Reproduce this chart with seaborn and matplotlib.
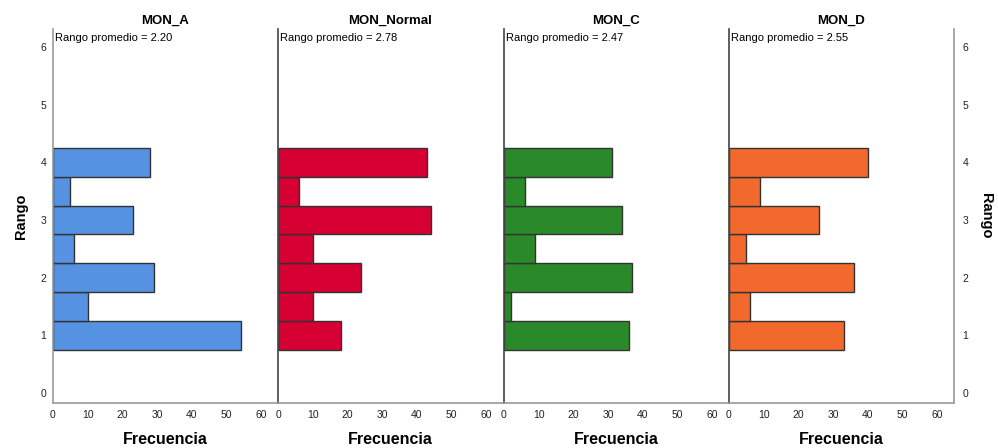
import matplotlib
matplotlib.use("Agg")
import matplotlib.pyplot as plt
import seaborn as sns
import pandas as pd

# Rank values (bar centres) and frequency per group
rangos = [1.0, 1.5, 2.0, 2.5, 3.0, 3.5, 4.0]
grupos = ["MON_A", "MON_Normal", "MON_C", "MON_D"]
frec_mon_a = [54, 10, 29, 6, 23, 5, 28]
frec_mon_normal = [18, 10, 24, 10, 44, 6, 43]
frec_mon_c = [36, 2, 37, 9, 34, 6, 31]
frec_mon_d = [33, 6, 36, 5, 26, 9, 40]
rango_promedio = ["2.20", "2.78", "2.47", "2.55"]
colores = ["#5593E2", "#D60032", "#2A8A2A", "#F2692E"]
xticks = [0, 10, 20, 30, 40, 50, 60]
yticks = [0, 1, 2, 3, 4, 5, 6]

frecuencias = [frec_mon_a, frec_mon_normal, frec_mon_c, frec_mon_d]

sns.set_theme(style="white")
plt.rcParams["font.family"] = ["Liberation Sans", "DejaVu Sans"]
plt.rcParams["text.color"] = "black"
plt.rcParams["axes.labelcolor"] = "black"

W, H = 998, 448
fig = plt.figure(figsize=(W / 100, H / 100), dpi=100)

lefts = [53, 278, 504, 729]
panel_w = 225
bottom_px, top_px = 403, 29
tick_color = "#222222"

for i, (grupo, frec, color, prom) in enumerate(zip(grupos, frecuencias, colores, rango_promedio)):
    ax = fig.add_axes([lefts[i] / W, 1 - bottom_px / H, panel_w / W, (bottom_px - top_px) / H])
    df = pd.DataFrame({"rango": rangos, "freq": frec})
    sns.histplot(data=df, y="rango", weights="freq", binwidth=0.5, binrange=(0.75, 4.25),
                 color=color, edgecolor="#333333", linewidth=1.0, alpha=1.0, ax=ax)
    ax.set_xlim(0, 64.8)
    ax.set_ylim(-0.17, 6.31)
    ax.set_xticks(xticks)
    ax.set_xticklabels([str(t) for t in xticks], fontsize=7.5, color=tick_color)
    ax.set_yticks(yticks)
    ax.tick_params(axis="both", length=0, pad=5)
    ax.set_xlabel("Frecuencia", fontsize=11.5, fontweight="bold", labelpad=9, color="black")
    ax.set_title(grupo, fontsize=9.5, fontweight="bold", pad=4, color="black")
    ax.text(0.008, 0.988, f"Rango promedio = {prom}", transform=ax.transAxes,
            ha="left", va="top", fontsize=8, color="black")

    ax.spines["top"].set_visible(False)
    ax.spines["bottom"].set_color("#9a9a9a")
    ax.spines["bottom"].set_linewidth(1.2)
    ax.spines["left"].set_linewidth(1.2)
    ax.spines["right"].set_linewidth(1.2)

    if i == 0:
        ax.spines["left"].set_color("#9a9a9a")
        ax.spines["right"].set_visible(False)
        ax.set_yticklabels([str(t) for t in yticks], fontsize=7.5, color=tick_color)
        ax.set_ylabel("Rango", fontsize=10.5, fontweight="bold", labelpad=9, color="black")
    elif i == 3:
        ax.spines["left"].set_color("#444444")
        ax.spines["right"].set_visible(True)
        ax.spines["right"].set_color("#9a9a9a")
        ax.yaxis.tick_right()
        ax.yaxis.set_label_position("right")
        ax.set_yticklabels([str(t) for t in yticks], fontsize=7.5, color=tick_color)
        ax.tick_params(axis="y", length=0, pad=6)
        ax.set_ylabel("Rango", fontsize=10.5, fontweight="bold", rotation=270, labelpad=18,
                      color="black")
    else:
        ax.spines["left"].set_color("#444444")
        ax.spines["right"].set_visible(False)
        ax.set_yticklabels([])
        ax.set_ylabel("")
    ax.set_facecolor("white")

fig.savefig("out.png", dpi=100, facecolor="white")
